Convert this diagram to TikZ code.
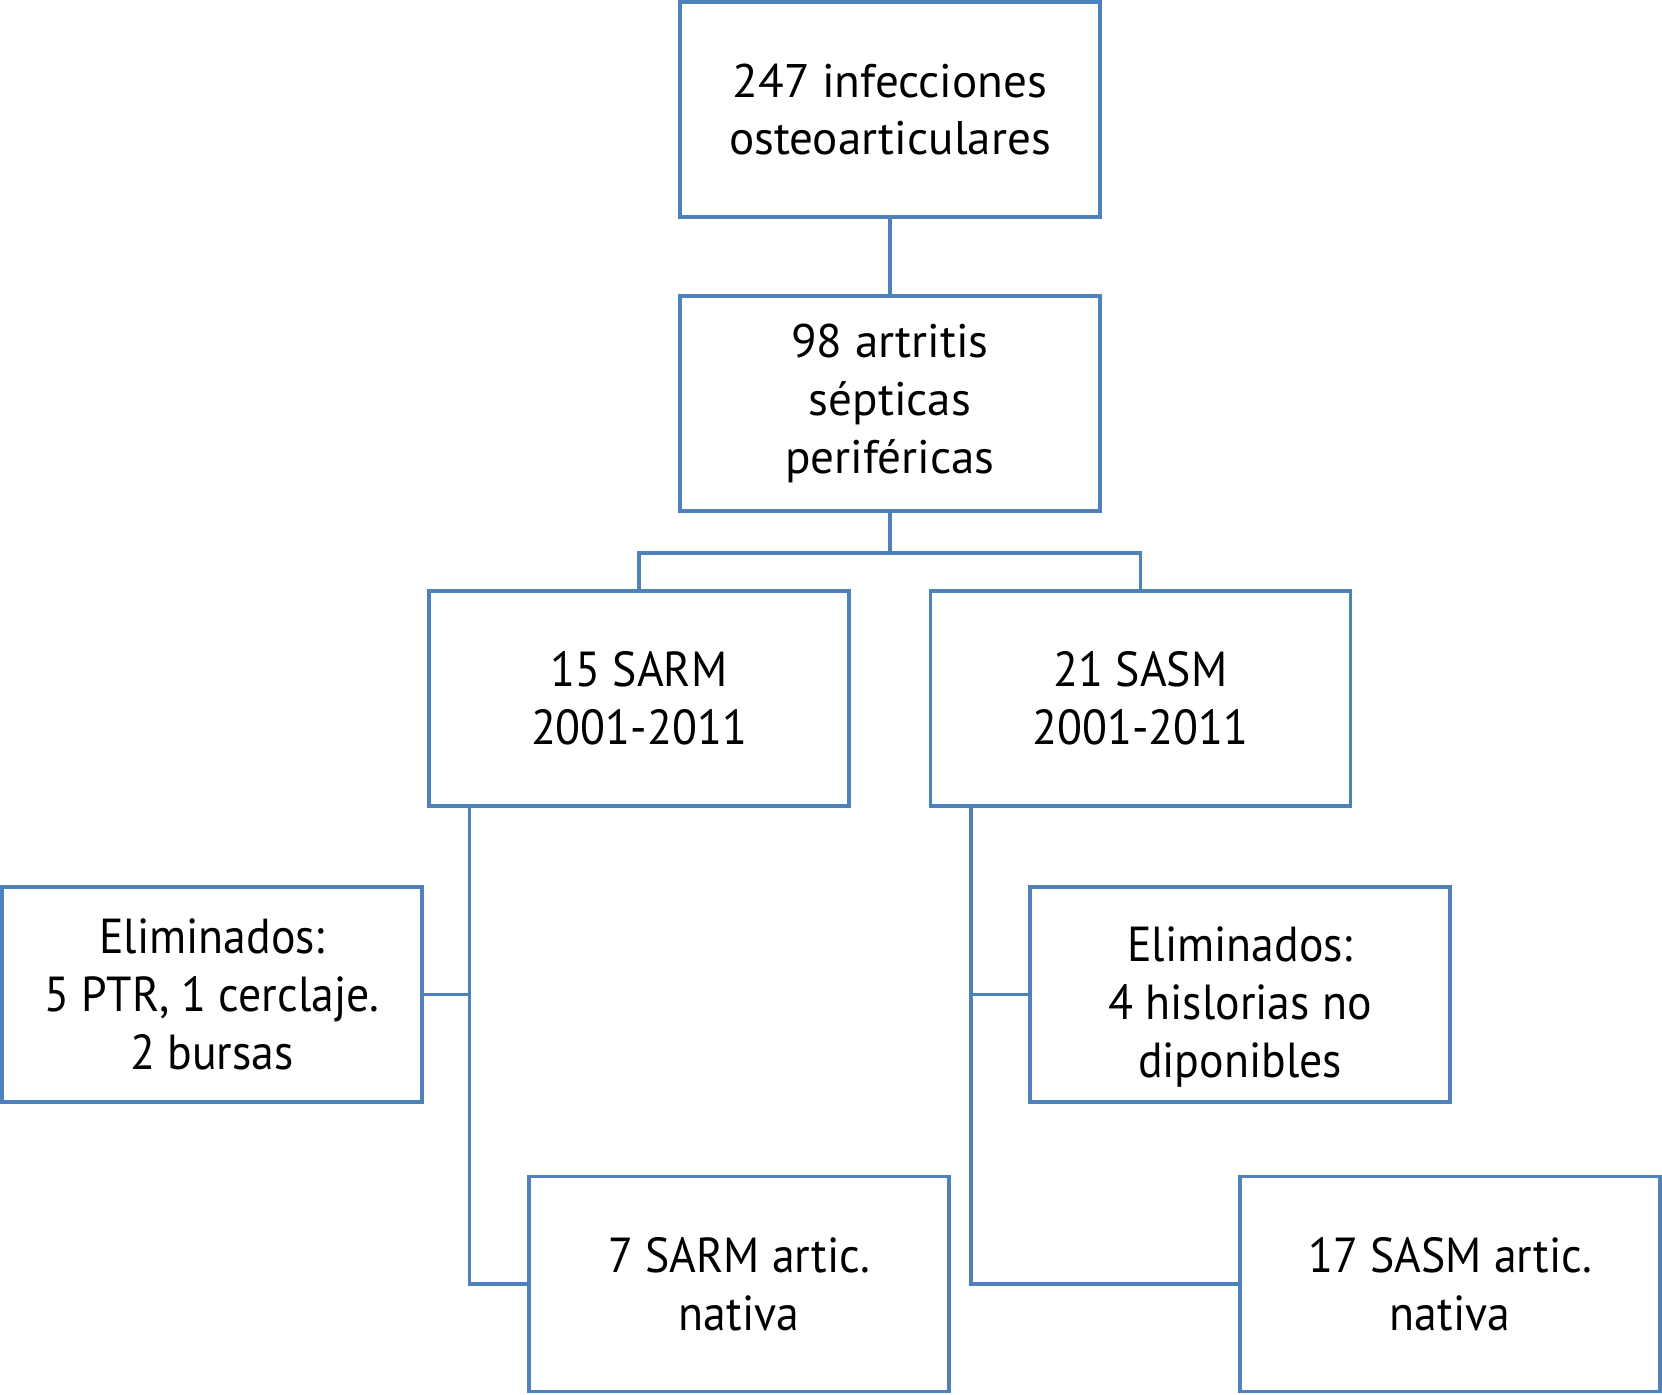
\documentclass[tikz,border=0pt]{standalone}
\usepackage{fontspec}
\setmainfont{PT Sans}
\newfontfamily\narrowfont[FakeStretch=0.93]{PT Sans}
\usepackage{tikz}
\usetikzlibrary{positioning,calc}
\definecolor{flowblue}{HTML}{4F81BD}

\begin{document}
\begin{tikzpicture}[x=0.02cm,y=-0.02cm,
  box/.style={draw=flowblue,line width=1.8pt,minimum width=8.4cm,minimum height=4.3cm,
    align=center,inner sep=0pt,font=\fontsize{26.8}{33}\selectfont},
  nbox/.style={box,font=\narrowfont\fontsize{28}{33}\selectfont},
  link/.style={draw=flowblue,line width=1.8pt}]
  \useasboundingbox (0,0) rectangle (1662,1394);
  \node[box] (total) at (890,109.5) {247 infecciones\\osteoarticulares};
  \node[box] (artr) at (890,403.5) {98 artritis\\sépticas\\periféricas};
  \node[nbox] (sarm) at (639,698.5) {15 SARM\\2001-2011};
  \node[nbox] (sasm) at (1140.5,698.5) {21 SASM\\2001-2011};
  \node[nbox] (elimL) at (212,994.5) {Eliminados:\\5 PTR, 1 cerclaje.\\2 bursas};
  \node[nbox] (elimR) at (1240,994.5) {\rule{0pt}{28pt}Eliminados:\\4 hislorias no\\\smash{diponibles}};
  \node[nbox] (natL) at (739,1284) {7 SARM artic.\\nativa};
  \node[nbox] (natR) at (1450,1284) {17 SASM artic.\\nativa};
  \coordinate (bus) at (890,553);
  \coordinate (spineL) at ($(sarm.south west)+(42,0)$);
  \coordinate (spineR) at ($(sasm.south west)+(42,0)$);
  \draw[link] (total) -- (artr);
  \draw[link] (artr) -- (bus);
  \draw[link] (sarm.north) |- (bus) -| (sasm.north);
  \draw[link] (spineL) |- (natL.west);
  \draw[link] (elimL.east) -- (elimL.east -| spineL);
  \draw[link] (spineR) |- (natR.west);
  \draw[link] (elimR.west) -- (elimR.west -| spineR);
\end{tikzpicture}
\end{document}
